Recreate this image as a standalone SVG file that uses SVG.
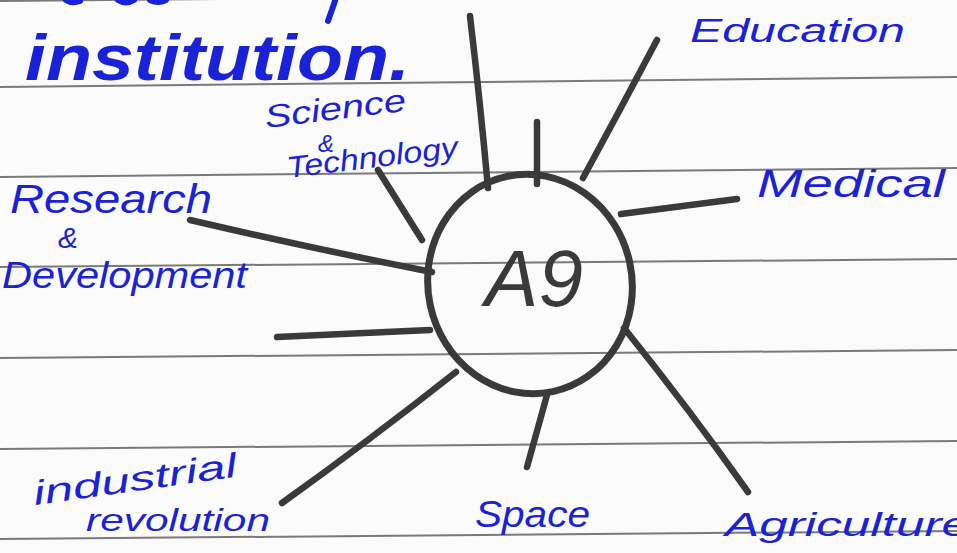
<svg xmlns="http://www.w3.org/2000/svg" width="957" height="553" viewBox="0 0 957 553">
<style>
.rule{stroke:#7a7a7a;stroke-width:2;fill:none}
.spoke{stroke:#3a3a3a;stroke-width:6.5;stroke-linecap:round;fill:none}
.lbl{fill:#1a22d8;font-family:"Liberation Sans",Arial,sans-serif;font-style:italic}
.frag{stroke:#1a22d8;stroke-width:6;stroke-linecap:round;fill:none}
.a9{fill:#3a3a3a;font-family:"Liberation Sans",Arial,sans-serif;font-style:italic}
</style>
<rect width="957" height="553" fill="#fbfbfb"/>
<g id="ruled-lines">
<line class="rule" x1="0" y1="1" x2="220" y2="-1"/>
<line class="rule" x1="0" y1="87" x2="957" y2="77"/>
<line class="rule" x1="0" y1="177" x2="957" y2="168"/>
<line class="rule" x1="0" y1="267" x2="957" y2="259"/>
<line class="rule" x1="0" y1="358" x2="957" y2="350"/>
<line class="rule" x1="0" y1="449" x2="957" y2="441"/>
<line class="rule" x1="0" y1="539" x2="957" y2="531"/>
</g>
<g id="top-fragments">
<path class="frag" d="M66 0 Q72 4 80 1"/>
<path class="frag" d="M118 0 Q126 5 134 0"/>
<path class="frag" d="M150 0 Q158 4 166 0"/>
<path class="frag" d="M335 1 L328 21"/>
</g>
<g id="title">
<text class="lbl" x="25" y="80" font-size="64" font-weight="bold" textLength="385" lengthAdjust="spacingAndGlyphs">institution.</text>
</g>
<g id="connectors">
<path class="spoke" d="M470 16 Q480 100 488 188"/>
<path class="spoke" d="M537 122 L537 184"/>
<path class="spoke" d="M657 40 Q620 110 583 178"/>
<path class="spoke" d="M621 214 L737 199"/>
<path class="spoke" d="M378 170 L422 240"/>
<path class="spoke" d="M190 220 Q310 248 432 272"/>
<path class="spoke" d="M277 337 L430 330"/>
<path class="spoke" d="M282 503 Q370 440 456 372"/>
<path class="spoke" d="M547 395 L527 467"/>
<path class="spoke" d="M624 328 Q690 410 748 492"/>
</g>
<g id="node-a9">
<ellipse cx="530" cy="284" rx="102" ry="110" transform="rotate(-12 530 284)" fill="none" stroke="#3a3a3a" stroke-width="7"/>
<text class="a9" x="534" y="306" font-size="80" text-anchor="middle">A9</text>
</g>
<g id="node-education">
<text class="lbl" x="690" y="42" font-size="34" textLength="215" lengthAdjust="spacingAndGlyphs">Education</text>
</g>
<g id="node-medical">
<text class="lbl" x="757" y="197" font-size="38" textLength="188" lengthAdjust="spacingAndGlyphs">Medical</text>
</g>
<g id="node-science">
<text class="lbl" transform="rotate(-7 266 128)" x="266" y="128" font-size="32" textLength="142" lengthAdjust="spacingAndGlyphs">Science</text>
<text class="lbl" x="318" y="152" font-size="24">&amp;</text>
<text class="lbl" transform="rotate(-7 288 178)" x="288" y="178" font-size="30" textLength="172" lengthAdjust="spacingAndGlyphs">Technology</text>
</g>
<g id="node-research">
<text class="lbl" x="10" y="213" font-size="40" textLength="202" lengthAdjust="spacingAndGlyphs">Research</text>
<text class="lbl" x="58" y="248" font-size="30">&amp;</text>
<text class="lbl" x="2" y="288" font-size="36" textLength="245" lengthAdjust="spacingAndGlyphs">Development</text>
</g>
<g id="node-industrial">
<text class="lbl" transform="rotate(-8 35 505)" x="35" y="505" font-size="34" textLength="205" lengthAdjust="spacingAndGlyphs">industrial</text>
<text class="lbl" x="86" y="531" font-size="32" textLength="184" lengthAdjust="spacingAndGlyphs">revolution</text>
</g>
<g id="node-space">
<text class="lbl" x="475" y="527" font-size="36" textLength="115" lengthAdjust="spacingAndGlyphs">Space</text>
</g>
<g id="node-agriculture">
<text class="lbl" x="725" y="536" font-size="34" textLength="245" lengthAdjust="spacingAndGlyphs">Agriculture</text>
</g>
</svg>
